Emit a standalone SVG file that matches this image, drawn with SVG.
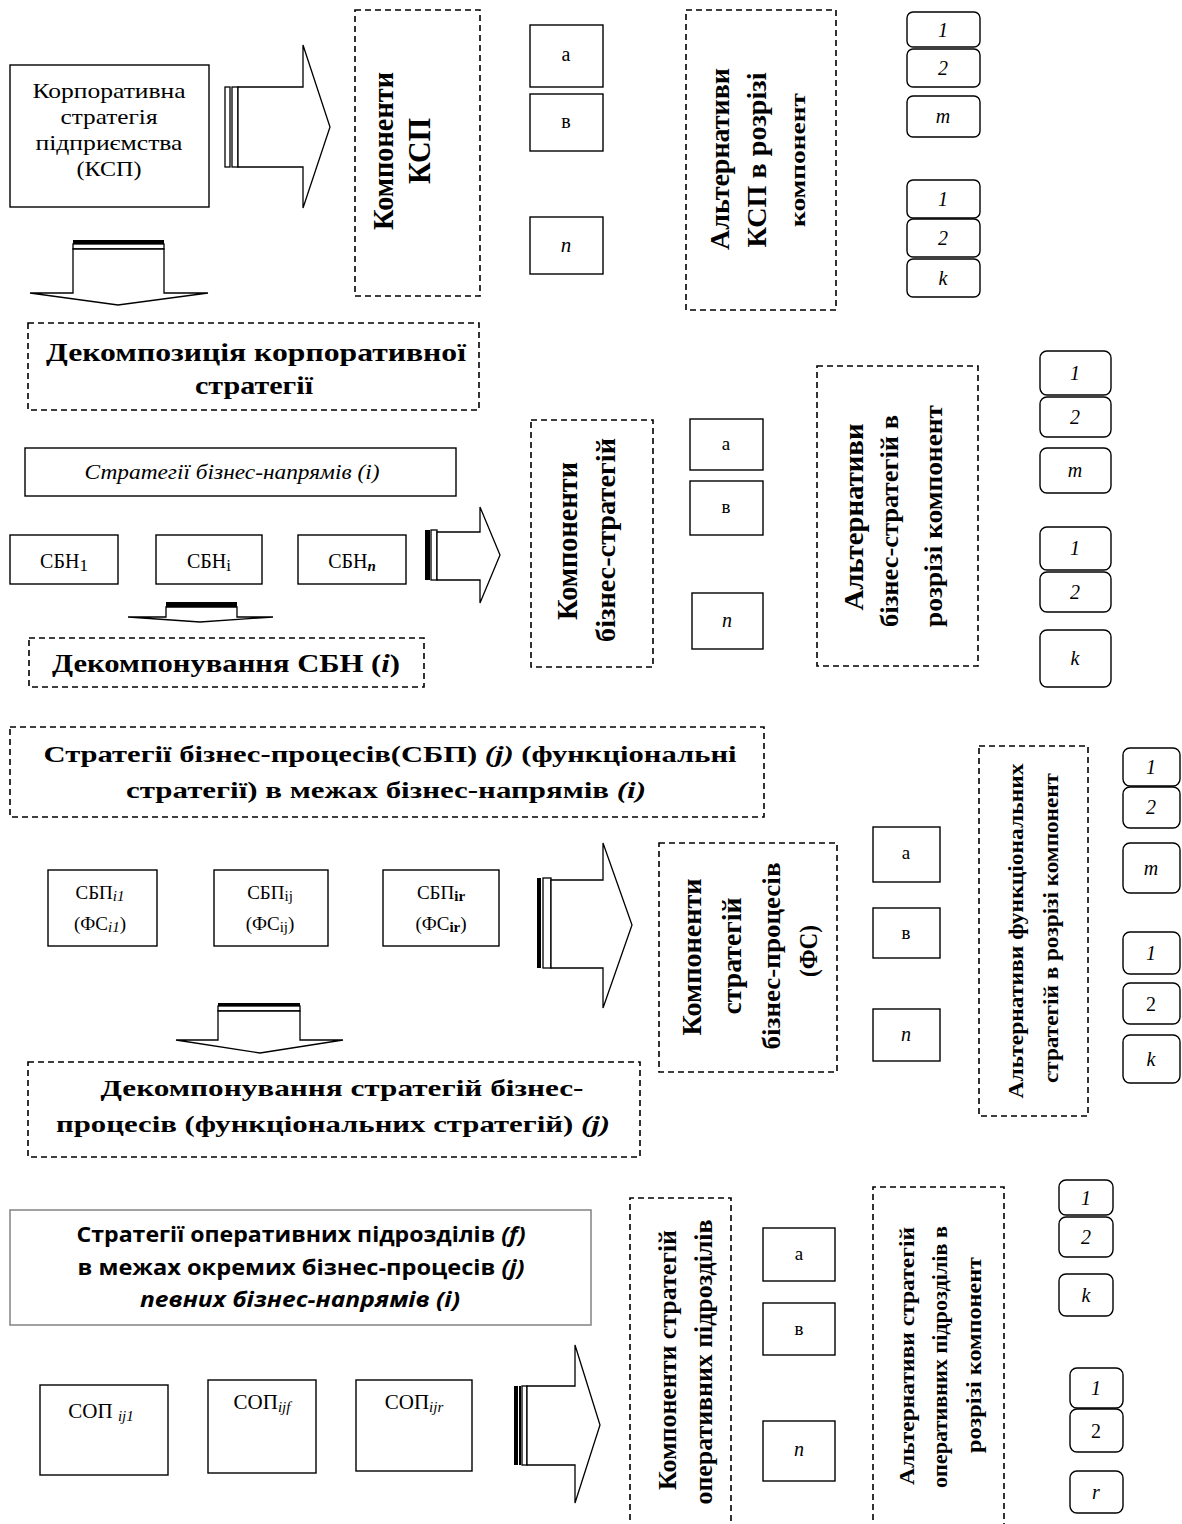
<svg xmlns="http://www.w3.org/2000/svg" width="1182" height="1524" viewBox="0 0 1182 1524">
<style>
.bg{fill:#fff}
.box{fill:#fff;stroke:#000;stroke-width:1.4}
.gbox{fill:#fff;stroke:#8a8a8a;stroke-width:1.6}
.dash{fill:none;stroke:#000;stroke-width:1.6;stroke-dasharray:6 4}
.arr{fill:#fff;stroke:#000;stroke-width:1.3;stroke-linejoin:miter}
.blk{fill:#000}
.t{font-family:"Liberation Serif",serif;fill:#000;text-anchor:middle}
.s{font-family:"Open Sans","Liberation Sans",sans-serif;fill:#000;text-anchor:middle;font-weight:bold}
.b{font-weight:bold}
.i{font-style:italic}
</style>
<rect class="bg" x="0" y="0" width="1182" height="1524"/>

<g id="connectors">
  <rect class="arr" x="225" y="87" width="5" height="80"/>
  <rect class="arr" x="232" y="87" width="6" height="80"/>
  <polygon class="arr" points="238,87 303,87 303,45 330,127 303,208 303,167 238,167"/>
  <rect class="blk" x="73" y="240" width="91" height="4"/>
  <rect class="arr" x="73" y="244" width="91" height="5"/>
  <polygon class="arr" points="73,249 73,293 30,293 118,305 208,293 164,293 164,249"/>
  <rect class="blk" x="425" y="530" width="5" height="50"/>
  <rect class="arr" x="431" y="530" width="6" height="50"/>
  <polygon class="arr" points="437,532 480,532 480,507 500,555 480,603 480,580 437,580"/>
  <rect class="blk" x="166" y="602" width="71" height="5"/>
  <polygon class="arr" points="166,607 166,617 128,617 200,622 273,617 237,617 237,607"/>
  <rect class="blk" x="537" y="878" width="4" height="90"/>
  <rect class="arr" x="543" y="878" width="8" height="90"/>
  <polygon class="arr" points="551,880 603,880 603,843 632,925 603,1008 603,968 551,968"/>
  <rect class="blk" x="218" y="1003" width="82" height="3"/>
  <rect class="arr" x="218" y="1006" width="82" height="5"/>
  <polygon class="arr" points="218,1011 218,1040 176,1040 260,1053 343,1040 300,1040 300,1011"/>
  <rect class="blk" x="514" y="1386" width="4" height="79"/>
  <rect class="blk" x="519" y="1386" width="2" height="79"/>
  <rect class="arr" x="522" y="1386" width="5" height="79"/>
  <polygon class="arr" points="527,1386 575,1386 575,1345 600,1425 575,1503 575,1465 527,1465"/>
</g>

<!-- ===== Section 1 ===== -->
<g id="ksp">
  <rect class="box" x="10" y="65" width="199" height="142"/>
  <text class="t" font-size="21" x="109" y="98" textLength="153" lengthAdjust="spacingAndGlyphs">Корпоративна</text>
  <text class="t" font-size="21" x="109" y="124" textLength="97" lengthAdjust="spacingAndGlyphs">стратегія</text>
  <text class="t" font-size="21" x="109" y="150" textLength="147" lengthAdjust="spacingAndGlyphs">підприємства</text>
  <text class="t" font-size="21" x="109" y="176" textLength="65" lengthAdjust="spacingAndGlyphs">(КСП)</text>
</g>
<g id="komp-ksp">
  <rect class="dash" x="355" y="10" width="125" height="286"/>
  <text class="t b" font-size="30" transform="translate(383,151) rotate(-90)" y="10" textLength="158" lengthAdjust="spacingAndGlyphs">Компоненти</text>
  <text class="t b" font-size="32" transform="translate(419,151) rotate(-90)" y="11" textLength="66" lengthAdjust="spacingAndGlyphs">КСП</text>
</g>
<g id="ksp-a"><rect class="box" x="530" y="25" width="73" height="62"/><text class="t" font-size="20" x="566" y="61">а</text></g>
<g id="ksp-b"><rect class="box" x="530" y="94" width="73" height="57"/><text class="t" font-size="20" x="566" y="128">в</text></g>
<g id="ksp-n"><rect class="box" x="530" y="217" width="73" height="57"/><text class="t i" font-size="21" x="566" y="252">n</text></g>
<g id="alt-ksp">
  <rect class="dash" x="686" y="10" width="150" height="300"/>
  <text class="t b" font-size="27" transform="translate(720,159) rotate(-90)" y="9" textLength="182" lengthAdjust="spacingAndGlyphs">Альтернативи</text>
  <text class="t b" font-size="27" transform="translate(757,160) rotate(-90)" y="9" textLength="175" lengthAdjust="spacingAndGlyphs">КСП в розрізі</text>
  <text class="t b" font-size="22" transform="translate(797,160) rotate(-90)" y="8" textLength="134" lengthAdjust="spacingAndGlyphs">компонент</text>
</g>
<g id="ksp-alts">
  <rect class="box" x="907" y="12" width="73" height="35" rx="6"/><text class="t i" font-size="20" x="943" y="37">1</text>
  <rect class="box" x="907" y="49" width="73" height="38" rx="6"/><text class="t i" font-size="20" x="943" y="75">2</text>
  <rect class="box" x="907" y="96" width="73" height="41" rx="6"/><text class="t i" font-size="20" x="943" y="123">m</text>
  <rect class="box" x="907" y="180" width="73" height="38" rx="6"/><text class="t i" font-size="20" x="943" y="206">1</text>
  <rect class="box" x="907" y="219" width="73" height="38" rx="6"/><text class="t i" font-size="20" x="943" y="245">2</text>
  <rect class="box" x="907" y="259" width="73" height="38" rx="6"/><text class="t i" font-size="20" x="943" y="285">k</text>
</g>

<!-- ===== Section 2 ===== -->
<g id="dekomp-ks">
  <rect class="dash" x="28" y="323" width="451" height="87"/>
  <text class="t b" font-size="25" x="256" y="361" textLength="420" lengthAdjust="spacingAndGlyphs">Декомпозиція корпоративної</text>
  <text class="t b" font-size="25" x="254" y="394" textLength="118" lengthAdjust="spacingAndGlyphs">стратегії</text>
</g>
<g id="sbn-title">
  <rect class="box" x="25" y="448" width="431" height="48"/>
  <text class="t i" font-size="20" x="232" y="479" textLength="295" lengthAdjust="spacingAndGlyphs">Стратегії бізнес-напрямів (і)</text>
</g>
<g id="sbn1"><rect class="box" x="10" y="535" width="108" height="49"/><text class="t" font-size="20" x="64" y="568">СБН<tspan font-size="17" dy="3">1</tspan></text></g>
<g id="sbni"><rect class="box" x="156" y="535" width="106" height="49"/><text class="t" font-size="20" x="209" y="568">СБН<tspan font-size="17" dy="3">і</tspan></text></g>
<g id="sbnn"><rect class="box" x="298" y="535" width="108" height="49"/><text class="t" font-size="20" x="352" y="568">СБН<tspan class="i b" font-size="15" dy="3">n</tspan></text></g>
<g id="dekomp-sbn">
  <rect class="dash" x="29" y="638" width="395" height="49"/>
  <text class="t b" font-size="25" x="226" y="672" textLength="348" lengthAdjust="spacingAndGlyphs">Декомпонування СБН (<tspan class="i">i</tspan>)</text>
</g>
<g id="komp-bs">
  <rect class="dash" x="531" y="420" width="122" height="247"/>
  <text class="t b" font-size="29" transform="translate(567,541) rotate(-90)" y="10" textLength="158" lengthAdjust="spacingAndGlyphs">Компоненти</text>
  <text class="t b" font-size="27" transform="translate(606,540) rotate(-90)" y="9" textLength="204" lengthAdjust="spacingAndGlyphs">бізнес-стратегій</text>
</g>
<g id="bs-a"><rect class="box" x="690" y="419" width="73" height="51"/><text class="t" font-size="19" x="726" y="450">а</text></g>
<g id="bs-b"><rect class="box" x="690" y="481" width="73" height="54"/><text class="t" font-size="19" x="726" y="513">в</text></g>
<g id="bs-n"><rect class="box" x="692" y="593" width="71" height="56"/><text class="t i" font-size="20" x="727" y="627">n</text></g>
<g id="alt-bs">
  <rect class="dash" x="817" y="366" width="161" height="300"/>
  <text class="t b" font-size="27" transform="translate(854,517) rotate(-90)" y="9" textLength="187" lengthAdjust="spacingAndGlyphs">Альтернативи</text>
  <text class="t b" font-size="25" transform="translate(889,521) rotate(-90)" y="9" textLength="212" lengthAdjust="spacingAndGlyphs">бізнес-стратегій в</text>
  <text class="t b" font-size="25" transform="translate(933,516) rotate(-90)" y="9" textLength="222" lengthAdjust="spacingAndGlyphs">розрізі компонент</text>
</g>
<g id="bs-alts">
  <rect class="box" x="1040" y="351" width="71" height="44" rx="7"/><text class="t i" font-size="20" x="1075" y="380">1</text>
  <rect class="box" x="1040" y="397" width="71" height="40" rx="7"/><text class="t i" font-size="20" x="1075" y="424">2</text>
  <rect class="box" x="1040" y="448" width="71" height="45" rx="7"/><text class="t i" font-size="20" x="1075" y="477">m</text>
  <rect class="box" x="1040" y="527" width="71" height="43" rx="7"/><text class="t i" font-size="20" x="1075" y="555">1</text>
  <rect class="box" x="1040" y="572" width="71" height="40" rx="7"/><text class="t i" font-size="20" x="1075" y="599">2</text>
  <rect class="box" x="1040" y="630" width="71" height="57" rx="7"/><text class="t i" font-size="20" x="1075" y="665">k</text>
</g>

<!-- ===== Section 3 ===== -->
<g id="sbp-title">
  <rect class="dash" x="10" y="727" width="754" height="90"/>
  <text class="t b" font-size="24" x="390" y="762" textLength="693" lengthAdjust="spacingAndGlyphs">Стратегії бізнес-процесів(СБП) <tspan class="i">(j)</tspan> (функціональні</text>
  <text class="t b" font-size="24" x="386" y="798" textLength="520" lengthAdjust="spacingAndGlyphs">стратегії) в межах бізнес-напрямів <tspan class="i">(і)</tspan></text>
</g>
<g id="sbp1"><rect class="box" x="48" y="870" width="109" height="76"/>
  <text class="t" font-size="19" x="100" y="899">СБП<tspan class="i" font-size="15" dy="2">i1</tspan></text>
  <text class="t" font-size="19" x="100" y="930">(ФС<tspan class="i" font-size="15" dy="2">i1</tspan><tspan dy="-2">)</tspan></text></g>
<g id="sbpj"><rect class="box" x="214" y="870" width="114" height="76"/>
  <text class="t" font-size="19" x="270" y="899">СБП<tspan font-size="15" dy="2">ij</tspan></text>
  <text class="t" font-size="19" x="270" y="930">(ФС<tspan font-size="15" dy="2">ij</tspan><tspan dy="-2">)</tspan></text></g>
<g id="sbpr"><rect class="box" x="383" y="870" width="116" height="76"/>
  <text class="t" font-size="19" x="441" y="899">СБП<tspan class="b" font-size="15" dy="2">ir</tspan></text>
  <text class="t" font-size="19" x="441" y="930">(ФС<tspan class="b" font-size="15" dy="2">ir</tspan><tspan dy="-2">)</tspan></text></g>
<g id="dekomp-sbp">
  <rect class="dash" x="28" y="1062" width="612" height="95"/>
  <text class="t b" font-size="24" x="342" y="1096" textLength="483" lengthAdjust="spacingAndGlyphs">Декомпонування стратегій бізнес-</text>
  <text class="t b" font-size="24" x="333" y="1132" textLength="554" lengthAdjust="spacingAndGlyphs">процесів (функціональних стратегій) <tspan class="i">(j)</tspan></text>
</g>
<g id="komp-fs">
  <rect class="dash" x="659" y="843" width="178" height="229"/>
  <text class="t b" font-size="28" transform="translate(691,957) rotate(-90)" y="10" textLength="157" lengthAdjust="spacingAndGlyphs">Компоненти</text>
  <text class="t b" font-size="27" transform="translate(732,956) rotate(-90)" y="9" textLength="117" lengthAdjust="spacingAndGlyphs">стратегій</text>
  <text class="t b" font-size="25" transform="translate(771,956) rotate(-90)" y="9" textLength="187" lengthAdjust="spacingAndGlyphs">бізнес-процесів</text>
  <text class="t b" font-size="26" transform="translate(808,951) rotate(-90)" y="9" textLength="52" lengthAdjust="spacingAndGlyphs">(ФС)</text>
</g>
<g id="fs-a"><rect class="box" x="873" y="827" width="67" height="55"/><text class="t" font-size="19" x="906" y="859">а</text></g>
<g id="fs-b"><rect class="box" x="873" y="908" width="67" height="50"/><text class="t" font-size="19" x="906" y="939">в</text></g>
<g id="fs-n"><rect class="box" x="873" y="1009" width="67" height="52"/><text class="t i" font-size="20" x="906" y="1041">n</text></g>
<g id="alt-fs">
  <rect class="dash" x="979" y="746" width="109" height="370"/>
  <text class="t b" font-size="20" transform="translate(1016,931) rotate(-90)" y="7" textLength="335" lengthAdjust="spacingAndGlyphs">Альтернативи функціональних</text>
  <text class="t b" font-size="20" transform="translate(1051,928) rotate(-90)" y="7" textLength="310" lengthAdjust="spacingAndGlyphs">стратегій в розрізі компонент</text>
</g>
<g id="fs-alts">
  <rect class="box" x="1123" y="748" width="57" height="38" rx="7"/><text class="t i" font-size="20" x="1151" y="774">1</text>
  <rect class="box" x="1123" y="787" width="57" height="41" rx="7"/><text class="t i" font-size="20" x="1151" y="814">2</text>
  <rect class="box" x="1123" y="843" width="57" height="50" rx="7"/><text class="t i" font-size="20" x="1151" y="875">m</text>
  <rect class="box" x="1123" y="932" width="57" height="42" rx="7"/><text class="t i" font-size="20" x="1151" y="960">1</text>
  <rect class="box" x="1123" y="983" width="57" height="41" rx="7"/><text class="t" font-size="20" x="1151" y="1011">2</text>
  <rect class="box" x="1123" y="1035" width="57" height="48" rx="7"/><text class="t i" font-size="20" x="1151" y="1066">k</text>
</g>

<!-- ===== Section 4 ===== -->
<g id="sop-title">
  <rect class="gbox" x="10" y="1210" width="581" height="115"/>
  <text class="s" font-size="21" x="301" y="1242" textLength="449" lengthAdjust="spacingAndGlyphs">Стратегії оперативних підрозділів <tspan class="i">(f)</tspan></text>
  <text class="s" font-size="21" x="301" y="1275" textLength="447" lengthAdjust="spacingAndGlyphs">в межах окремих бізнес-процесів <tspan class="i">(j)</tspan></text>
  <text class="s i" font-size="21" x="300" y="1307" textLength="320" lengthAdjust="spacingAndGlyphs">певних бізнес-напрямів (і)</text>
</g>
<g id="sop1"><rect class="box" x="40" y="1385" width="128" height="90"/>
  <text class="t" font-size="21" x="101" y="1418">СОП <tspan class="i" font-size="15" dy="3">ij1</tspan></text></g>
<g id="sopf"><rect class="box" x="208" y="1380" width="108" height="93"/>
  <text class="t" font-size="21" x="262" y="1409">СОП<tspan class="i" font-size="15" dy="3">ijf</tspan></text></g>
<g id="sopr"><rect class="box" x="356" y="1380" width="116" height="91"/>
  <text class="t" font-size="21" x="414" y="1409">СОП<tspan class="i" font-size="15" dy="3">ijr</tspan></text></g>
<g id="komp-sop">
  <path class="dash" d="M630,1540 V1198 H731 V1540"/>
  <text class="t b" font-size="26" transform="translate(667,1360) rotate(-90)" y="9" textLength="260" lengthAdjust="spacingAndGlyphs">Компоненти стратегій</text>
  <text class="t b" font-size="26" transform="translate(703,1362) rotate(-90)" y="9" textLength="285" lengthAdjust="spacingAndGlyphs">оперативних підрозділів</text>
</g>
<g id="sop-a"><rect class="box" x="763" y="1228" width="72" height="53"/><text class="t" font-size="19" x="799" y="1260">а</text></g>
<g id="sop-b"><rect class="box" x="763" y="1303" width="72" height="52"/><text class="t" font-size="19" x="799" y="1335">в</text></g>
<g id="sop-n"><rect class="box" x="763" y="1421" width="72" height="60"/><text class="t i" font-size="20" x="799" y="1456">n</text></g>
<g id="alt-sop">
  <path class="dash" d="M873,1540 V1187 H1004 V1540"/>
  <text class="t b" font-size="21" transform="translate(907,1356) rotate(-90)" y="7" textLength="258" lengthAdjust="spacingAndGlyphs">Альтернативи стратегій</text>
  <text class="t b" font-size="21" transform="translate(940,1357) rotate(-90)" y="7" textLength="262" lengthAdjust="spacingAndGlyphs">оперативних підрозділів в</text>
  <text class="t b" font-size="21" transform="translate(974,1355) rotate(-90)" y="7" textLength="196" lengthAdjust="spacingAndGlyphs">розрізі компонент</text>
</g>
<g id="sop-alts">
  <rect class="box" x="1059" y="1180" width="54" height="35" rx="7"/><text class="t i" font-size="20" x="1086" y="1205">1</text>
  <rect class="box" x="1059" y="1217" width="54" height="40" rx="7"/><text class="t i" font-size="20" x="1086" y="1244">2</text>
  <rect class="box" x="1059" y="1274" width="54" height="42" rx="7"/><text class="t i" font-size="20" x="1086" y="1302">k</text>
  <rect class="box" x="1070" y="1368" width="53" height="40" rx="7"/><text class="t i" font-size="20" x="1096" y="1395">1</text>
  <rect class="box" x="1070" y="1409" width="53" height="43" rx="7"/><text class="t" font-size="20" x="1096" y="1438">2</text>
  <rect class="box" x="1070" y="1471" width="53" height="42" rx="7"/><text class="t i" font-size="20" x="1096" y="1499">r</text>
</g>
</svg>
